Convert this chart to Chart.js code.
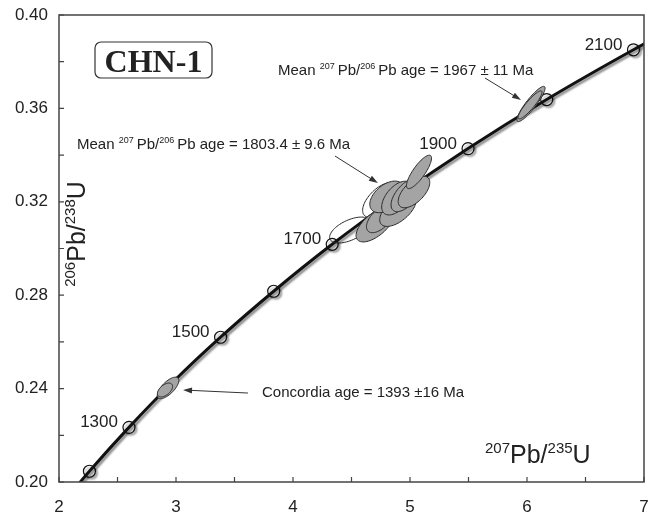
<!DOCTYPE html>
<html>
<head>
<meta charset="utf-8">
<script src="https://cdn.jsdelivr.net/npm/chart.js@4.4.1/dist/chart.umd.min.js"></script>
<style>
  body { margin: 0; background: #fff; }
  #wrap { width: 656px; height: 516px; }
</style>
</head>
<body>
<div id="wrap"><canvas id="concordia" width="656" height="516"></canvas></div>
<script>
// concordia curve (207Pb/235U vs 206Pb/238U), one point per 100 Ma
const curveAges = [1150, 1200, 1300, 1400, 1500, 1600, 1700, 1800, 1900, 2000, 2100, 2150];
const curveX = [2.104, 2.260, 2.598, 2.970, 3.381, 3.835, 4.335, 4.887, 5.496, 6.168, 6.910, 7.310];
const curveY = [0.1953, 0.2046, 0.2234, 0.2426, 0.2620, 0.2817, 0.3018, 0.3221, 0.3428, 0.3638, 0.3851, 0.3959];

// age ticks shown as open circles, and the ones that get a number
const markerAges = [1200, 1300, 1500, 1600, 1700, 1900, 2000, 2100];
const labelAges = [1300, 1500, 1700, 1900, 2100];

// error ellipses: centre, 1 sigma x / y, correlation
const ellX   = [4.487, 4.744, 4.701, 4.744, 4.897, 4.803, 4.889, 4.966, 5.034, 5.077, 6.034, 6.026, 2.932, 2.906];
const ellY   = [0.3079, 0.3208, 0.3101, 0.3126, 0.3165, 0.3221, 0.3216, 0.3229, 0.3242, 0.3328, 0.3619, 0.3615, 0.2403, 0.2394];
const ellSx  = [0.174, 0.149, 0.162, 0.116, 0.156, 0.1466, 0.131, 0.128, 0.135, 0.107, 0.1205, 0.102, 0.092, 0.065];
const ellSy  = [0.00556, 0.00745, 0.00729, 0.00583, 0.00705, 0.00677, 0.00723, 0.00712, 0.00677, 0.00717, 0.00754, 0.00601, 0.00461, 0.00297];
const ellRho = [0.556, 0.60, 0.62, 0.56, 0.594, 0.465, 0.529, 0.594, 0.60, 0.82, 0.90, 0.90, 0.69, 0.52];
const ellFilled = [false, false, true, true, true, true, true, true, true, true, true, true, true, true];

// notes with arrows (text start / baseline, arrow from -> to)
const noteText = [
  "Mean ^207Pb/^206Pb age = 1967 ± 11 Ma",
  "Mean ^207Pb/^206Pb age = 1803.4 ± 9.6 Ma",
  "Concordia age = 1393 ±16 Ma"
];
const noteX = [3.872, 2.154, 3.735];
const noteY = [0.3743, 0.3426, 0.2364];
const arrowFromX = [5.641, 4.359, 3.615];
const arrowFromY = [0.3730, 0.3396, 0.2381];
const arrowToX = [5.949, 4.726, 3.060];
const arrowToY = [0.3636, 0.3280, 0.2394];

const sampleName = "CHN-1";
const xTitle = "^207Pb/^235U";
const yTitle = "^206Pb/^238U";

const SANS = '"Liberation Sans", Arial, sans-serif';
const INK = '#222';

function drawRich(ctx, str, x, y, size, supSize, gap, align) {
  const parts = str.split(/(\^\d+)/).filter(p => p.length);
  const items = parts.map(p => {
    const sup = p[0] === '^';
    const t = sup ? p.slice(1) : p;
    ctx.font = `${sup ? supSize : size}px ${SANS}`;
    return { t, sup, w: ctx.measureText(t).width + (sup ? gap : 0) };
  });
  const total = items.reduce((a, b) => a + b.w, 0);
  let cx = align === 'center' ? x - total / 2 : x;
  ctx.textBaseline = 'alphabetic';
  ctx.textAlign = 'left';
  items.forEach(it => {
    ctx.font = `${it.sup ? supSize : size}px ${SANS}`;
    ctx.fillText(it.t, cx, it.sup ? y - size * 0.4 : y);
    cx += it.w;
  });
}

const shadowPlugin = {
  id: 'shadow',
  beforeDatasetDraw(chart, args) {
    const ctx = chart.ctx;
    ctx.save();
    ctx.shadowColor = args.index === 0 ? 'rgba(0,0,0,0.45)' : 'rgba(0,0,0,0.3)';
    ctx.shadowOffsetX = 2;
    ctx.shadowOffsetY = 2;
    ctx.shadowBlur = 2;
  },
  afterDatasetDraw(chart) {
    chart.ctx.restore();
  }
};

const overlayPlugin = {
  id: 'overlay',
  afterDatasetsDraw(chart) {
    const { ctx, chartArea: area } = chart;
    const xs = chart.scales.x, ys = chart.scales.y;

    ctx.save();
    ctx.beginPath();
    ctx.rect(area.left, area.top, area.right - area.left, area.bottom - area.top);
    ctx.clip();

    // error ellipses
    ellX.forEach((cx, i) => {
      const k = Math.sqrt(1 - ellRho[i] * ellRho[i]);
      ctx.beginPath();
      for (let s = 0; s <= 72; s++) {
        const a = s / 72 * Math.PI * 2;
        const px = xs.getPixelForValue(cx + ellSx[i] * Math.cos(a));
        const py = ys.getPixelForValue(ellY[i] + ellSy[i] * (ellRho[i] * Math.cos(a) + k * Math.sin(a)));
        if (s === 0) ctx.moveTo(px, py); else ctx.lineTo(px, py);
      }
      ctx.closePath();
      if (ellFilled[i]) {
        ctx.fillStyle = '#a4a4a4';
        ctx.fill();
      }
      ctx.strokeStyle = '#2a2a2a';
      ctx.lineWidth = 1;
      ctx.stroke();
    });

    // arrows
    ctx.strokeStyle = '#333';
    ctx.fillStyle = '#333';
    ctx.lineWidth = 1;
    arrowFromX.forEach((fx, i) => {
      const x0 = xs.getPixelForValue(fx), y0 = ys.getPixelForValue(arrowFromY[i]);
      const x1 = xs.getPixelForValue(arrowToX[i]), y1 = ys.getPixelForValue(arrowToY[i]);
      const ang = Math.atan2(y1 - y0, x1 - x0);
      ctx.beginPath();
      ctx.moveTo(x0, y0);
      ctx.lineTo(x1 - 6 * Math.cos(ang), y1 - 6 * Math.sin(ang));
      ctx.stroke();
      ctx.beginPath();
      ctx.moveTo(x1, y1);
      ctx.lineTo(x1 - 9 * Math.cos(ang) + 3 * Math.sin(ang), y1 - 9 * Math.sin(ang) - 3 * Math.cos(ang));
      ctx.lineTo(x1 - 9 * Math.cos(ang) - 3 * Math.sin(ang), y1 - 9 * Math.sin(ang) + 3 * Math.cos(ang));
      ctx.closePath();
      ctx.fill();
    });
    ctx.restore();

    // notes
    ctx.save();
    ctx.fillStyle = INK;
    noteText.forEach((t, i) => {
      drawRich(ctx, t, xs.getPixelForValue(noteX[i]), ys.getPixelForValue(noteY[i]), 15, 9, 3, 'left');
    });

    // age numbers beside the concordia circles
    ctx.font = `17px ${SANS}`;
    ctx.textAlign = 'right';
    ctx.textBaseline = 'alphabetic';
    labelAges.forEach(age => {
      const j = curveAges.indexOf(age);
      ctx.fillText(String(age), xs.getPixelForValue(curveX[j]) - 11, ys.getPixelForValue(curveY[j]));
    });
    ctx.restore();
  },
  afterDraw(chart) {
    const { ctx, chartArea: area } = chart;
    const xs = chart.scales.x, ys = chart.scales.y;
    ctx.save();
    // frame
    ctx.strokeStyle = '#444';
    ctx.lineWidth = 1.5;
    ctx.strokeRect(area.left, area.top, area.right - area.left, area.bottom - area.top);
    // inward tick marks
    ctx.lineWidth = 1.2;
    ctx.beginPath();
    xs.ticks.forEach(t => {
      const p = xs.getPixelForValue(t.value);
      ctx.moveTo(p, area.bottom);
      ctx.lineTo(p, area.bottom - 5);
    });
    ys.ticks.forEach(t => {
      const p = ys.getPixelForValue(t.value);
      ctx.moveTo(area.left, p);
      ctx.lineTo(area.left + 5, p);
    });
    ctx.stroke();

    // sample name box
    const bx = area.left + 36, by = area.top + 27, bw = 117, bh = 36;
    ctx.lineWidth = 1.2;
    ctx.strokeStyle = '#333';
    ctx.beginPath();
    ctx.roundRect(bx, by, bw, bh, 6);
    ctx.stroke();
    ctx.fillStyle = INK;
    ctx.font = 'bold 32px "Liberation Serif", "Times New Roman", serif';
    ctx.textAlign = 'center';
    ctx.textBaseline = 'alphabetic';
    ctx.fillText(sampleName, bx + bw / 2, by + bh - 6);

    // axis titles
    drawRich(ctx, xTitle, area.left + 426, area.bottom - 19, 25, 15, 0, 'left');
    ctx.translate(area.left + 26, area.top + 219);
    ctx.rotate(-Math.PI / 2);
    drawRich(ctx, yTitle, 0, 0, 25, 15, 0, 'center');
    ctx.restore();
  }
};

const ctx = document.getElementById('concordia').getContext('2d');

new Chart(ctx, {
  type: 'scatter',
  data: {
    datasets: [
      {
        type: 'line',
        data: curveX.map((x, i) => ({ x, y: curveY[i] })),
        borderColor: '#111',
        borderWidth: 3,
        pointRadius: 0,
        cubicInterpolationMode: 'monotone',
        fill: false
      },
      {
        data: markerAges.map(a => {
          const j = curveAges.indexOf(a);
          return { x: curveX[j], y: curveY[j] };
        }),
        pointRadius: 6,
        pointBackgroundColor: '#fff',
        pointBorderColor: '#111',
        pointBorderWidth: 1.2
      }
    ]
  },
  options: {
    responsive: false,
    animation: false,
    events: [],
    layout: { padding: { top: 15, right: 12, left: 0, bottom: 0 } },
    plugins: { legend: { display: false }, tooltip: { enabled: false } },
    scales: {
      x: {
        type: 'linear',
        min: 2, max: 7,
        afterFit: s => { s.height = 34; s.paddingLeft = 0; s.paddingRight = 0; },
        grid: { display: false, drawTicks: false },
        border: { display: false },
        ticks: {
          stepSize: 0.5,
          autoSkip: false,
          maxRotation: 0,
          padding: 15,
          color: INK,
          font: { family: SANS, size: 17 },
          callback: v => Number.isInteger(v) ? String(v) : ''
        }
      },
      y: {
        type: 'linear',
        min: 0.2, max: 0.4,
        afterFit: s => { s.width = 59; s.paddingTop = 0; s.paddingBottom = 0; },
        grid: { display: false, drawTicks: false },
        border: { display: false },
        ticks: {
          stepSize: 0.02,
          autoSkip: false,
          padding: 11,
          color: INK,
          font: { family: SANS, size: 17 },
          callback: v => Math.round(v * 100) % 4 === 0 ? v.toFixed(2) : ''
        }
      }
    }
  },
  plugins: [shadowPlugin, overlayPlugin]
});
</script>
</body>
</html>
